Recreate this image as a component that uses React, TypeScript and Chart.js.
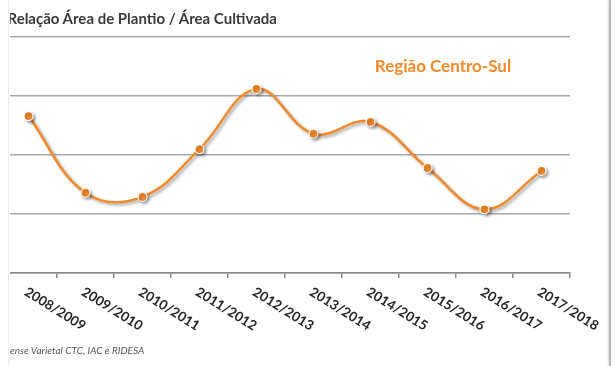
import React, { useEffect, useRef } from "react";
import { Chart, registerables } from "chart.js";

Chart.register(...registerables);

const categories = [
  "2008/2009",
  "2009/2010",
  "2010/2011",
  "2011/2012",
  "2012/2013",
  "2013/2014",
  "2014/2015",
  "2015/2016",
  "2016/2017",
  "2017/2018",
];
const ratioValues = [2.66, 1.36, 1.29, 2.1, 3.12, 2.36, 2.56, 1.78, 1.08, 1.73];
const yMin = 0;
const yMax = 4;
const yStep = 1;

const titleText = "Relação Área de Plantio / Área Cultivada";
const seriesLabel = "Região Centro-Sul";
const sourceText = "ense Varietal CTC, IAC e RIDESA";

const ORANGE = "#F28A2C";

export default function App() {
  const canvasRef = useRef<HTMLCanvasElement | null>(null);

  useEffect(() => {
    document.body.style.margin = "0";
    const canvas = canvasRef.current;
    if (!canvas) return;

    const shadowPlugin = {
      id: "lineShadow",
      beforeDatasetsDraw(chart: any) {
        const ctx = chart.ctx;
        ctx.save();
        ctx.shadowColor = "rgba(0,0,0,0.35)";
        ctx.shadowBlur = 3;
        ctx.shadowOffsetX = 2;
        ctx.shadowOffsetY = 2;
      },
      afterDatasetsDraw(chart: any) {
        chart.ctx.restore();
      },
    };

    const rotatedLabels = {
      id: "rotatedLabels",
      afterDraw(chart: any) {
        const ctx = chart.ctx;
        const xs = chart.scales.x;
        ctx.save();
        ctx.fillStyle = "#262626";
        ctx.font = "bold 13.5px Lato, 'Open Sans', sans-serif";
        ctx.textAlign = "left";
        ctx.textBaseline = "top";
        categories.forEach((lab, i) => {
          const x = xs.getPixelForValue(i);
          ctx.save();
          ctx.translate(x + 1, chart.chartArea.bottom + 12);
          ctx.rotate((32 * Math.PI) / 180);
          ctx.fillText(lab, 0, 0);
          ctx.restore();
        });
        ctx.restore();
      },
    };

    const chart = new Chart(canvas, {
      type: "line",
      data: {
        labels: categories,
        datasets: [
          {
            label: seriesLabel,
            data: ratioValues,
            borderColor: ORANGE,
            borderWidth: 2.5,
            tension: 0.4,
            pointRadius: 4.5,
            pointBackgroundColor: ORANGE,
            pointBorderColor: "#ffffff",
            pointBorderWidth: 1.2,
            fill: false,
          },
        ],
      },
      options: {
        responsive: false,
        animation: false,
        layout: { autoPadding: false, padding: { left: 0, right: 45, top: 37, bottom: 0 } },
        plugins: {
          legend: { display: false },
          title: { display: false },
          tooltip: { enabled: false },
        },
        scales: {
          x: {
            type: "category",
            offset: true,
            afterFit: (s: any) => {
              s.height = 93;
            },
            grid: {
              offset: true,
              drawOnChartArea: false,
              drawTicks: true,
              tickLength: 5,
              color: "#8a8a8a",
              lineWidth: 1.5,
            },
            border: { display: true, color: "#8a8a8a", width: 1.5 },
            ticks: { display: false },
          },
          y: {
            min: yMin,
            max: yMax,
            afterFit: (s: any) => {
              s.width = 0;
            },
            ticks: { display: false, stepSize: yStep },
            border: { display: false },
            grid: {
              color: "#a8a8a8",
              lineWidth: 1.5,
              drawTicks: false,
            },
          },
        },
      },
      plugins: [shadowPlugin, rotatedLabels],
    });

    return () => chart.destroy();
  }, []);

  return (
    <div
      style={{
        position: "relative",
        width: 615,
        height: 366,
        background: "#ffffff",
        overflow: "hidden",
      }}
    >
      <div
        style={{
          position: "absolute",
          left: 10,
          top: 0,
          width: 599,
          height: 366,
          overflow: "hidden",
        }}
      >
        <canvas
          ref={canvasRef}
          width={615}
          height={366}
          style={{ position: "absolute", left: -10, top: 0, width: 615, height: 366 }}
        />
        <div
          style={{
            position: "absolute",
            right: 599 - 267,
            top: 9,
            whiteSpace: "nowrap",
            font: "bold 15px Lato, 'Open Sans', sans-serif",
            color: "#3a3a3a",
          }}
        >
          {titleText}
        </div>
        <div
          style={{
            position: "absolute",
            left: 353,
            width: 160,
            textAlign: "center",
            top: 55,
            whiteSpace: "nowrap",
            font: "bold 17px Lato, 'Open Sans', sans-serif",
            color: ORANGE,
          }}
        >
          {seriesLabel}
        </div>
        <div
          style={{
            position: "absolute",
            left: 0,
            top: 344,
            whiteSpace: "nowrap",
            font: "italic 10px Lato, 'Open Sans', sans-serif",
            color: "#555555",
          }}
        >
          {sourceText}
        </div>
      </div>
      <div
        style={{
          position: "absolute",
          left: 8,
          top: 0,
          width: 1,
          height: 366,
          background: "#ececec",
        }}
      />
      <div
        style={{
          position: "absolute",
          left: 609,
          top: 0,
          width: 2,
          height: 366,
          background: "#b8b8b8",
          boxShadow: "-1px 0 2px rgba(0,0,0,0.15)",
        }}
      />
    </div>
  );
}
